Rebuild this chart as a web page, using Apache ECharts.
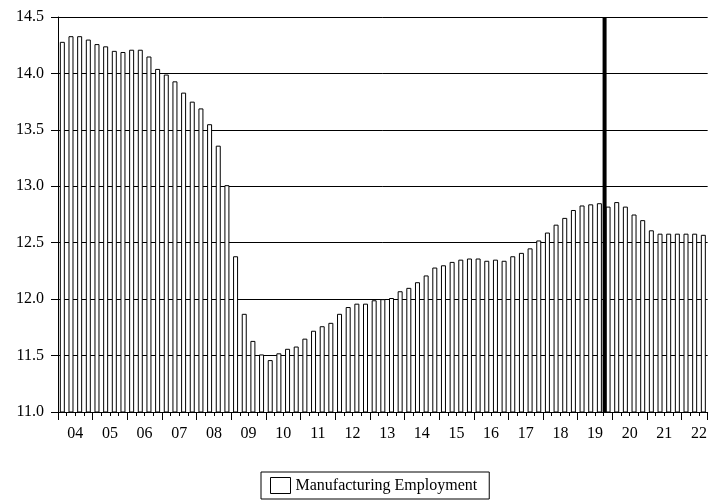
<!DOCTYPE html>
<html>
<head>
<meta charset="utf-8">
<script src="https://cdn.jsdelivr.net/npm/echarts@6/dist/echarts.min.js"></script>
<style>
  html, body { margin: 0; padding: 0; background: #fff; }
  #chart { width: 710px; height: 502px; }
</style>
</head>
<body>
<div id="chart"></div>
<script>
  // quarterly, 2004Q1 .. 2022Q3
  const years = ['04', '05', '06', '07', '08', '09', '10', '11', '12', '13',
    '14', '15', '16', '17', '18', '19', '20', '21', '22'];
  const quarters = [];
  years.forEach((y) => {
    for (let q = 1; q <= 4; q++) quarters.push(y + 'Q' + q);
  });
  quarters.length = 75;

  const employment = [
    14.28, 14.33, 14.33, 14.30, 14.26, 14.24, 14.20, 14.19, 14.21, 14.21,
    14.15, 14.04, 13.99, 13.93, 13.83, 13.75, 13.69, 13.55, 13.36, 13.01,
    12.38, 11.87, 11.63, 11.51, 11.46, 11.52, 11.56, 11.58, 11.65, 11.72,
    11.76, 11.79, 11.87, 11.93, 11.96, 11.96, 11.99, 12.00, 12.01, 12.07,
    12.10, 12.15, 12.21, 12.28, 12.30, 12.33, 12.35, 12.36, 12.36, 12.34,
    12.35, 12.34, 12.38, 12.41, 12.45, 12.52, 12.59, 12.66, 12.72, 12.79,
    12.83, 12.84, 12.85, 12.82, 12.86, 12.82, 12.75, 12.70, 12.61, 12.58,
    12.58, 12.58, 12.58, 12.58, 12.57
  ];

  // vertical marker between 2019Q3 and 2019Q4 (boundary index)
  const markerPos = 63.1;

  const font = "'Liberation Serif', 'Times New Roman', serif";
  const chart = echarts.init(document.getElementById('chart'));

  const options = {
    animation: false,
    textStyle: { fontFamily: font, color: '#000' },
    grid: { left: 58, right: 2, top: 17, bottom: 90 },
    legend: {
      data: ['Manufacturing Employment'],
      left: 261,
      top: 472,
      icon: 'rect',
      itemWidth: 20,
      itemHeight: 16,
      itemGap: 8,
      padding: [5, 12, 5, 9],
      borderColor: '#000',
      borderWidth: 1,
      itemStyle: { color: '#fff', borderColor: '#000', borderWidth: 1 },
      textStyle: { fontFamily: font, fontSize: 16, color: '#000' }
    },
    xAxis: [
      {
        // bars + minor ticks
        type: 'category',
        data: quarters,
        position: 'bottom',
        axisLine: { show: true, lineStyle: { color: '#000', width: 1 } },
        axisTick: { show: true, interval: 0, length: 4, lineStyle: { color: '#000' } },
        axisLabel: { show: false },
        splitLine: { show: false }
      },
      {
        // year ticks
        type: 'category',
        data: quarters,
        position: 'bottom',
        axisLine: { show: false },
        axisTick: {
          show: true,
          length: 8,
          interval: (idx) => idx % 4 === 0,
          lineStyle: { color: '#000' }
        },
        axisLabel: { show: false },
        splitLine: { show: false }
      },
      {
        // year labels centred in each year, and the marker line
        type: 'value',
        min: 0,
        max: 75,
        interval: 2,
        position: 'bottom',
        axisLine: { show: false },
        axisTick: { show: false },
        splitLine: { show: false },
        axisLabel: {
          margin: 14,
          fontSize: 16,
          fontFamily: font,
          color: '#000',
          showMinLabel: true,
          showMaxLabel: false,
          formatter: (v) => (v % 4 === 2 ? years[(v - 2) / 4] : '')
        }
      }
    ],
    yAxis: {
      type: 'value',
      min: 11,
      max: 14.5,
      interval: 0.5,
      axisLine: { show: true, lineStyle: { color: '#000' } },
      axisTick: { show: true, length: 7, lineStyle: { color: '#000' } },
      axisLabel: {
        margin: 14,
        fontSize: 16,
        fontFamily: font,
        color: '#000',
        formatter: (v) => v.toFixed(1)
      },
      splitLine: { show: true, lineStyle: { color: '#000', width: 1 } }
    },
    series: [
      {
        name: 'Manufacturing Employment',
        type: 'bar',
        xAxisIndex: 0,
        data: employment,
        barWidth: 5,
        itemStyle: { color: '#fff', borderColor: '#000', borderWidth: 1 }
      },
      {
        name: 'marker',
        type: 'line',
        xAxisIndex: 2,
        data: [[markerPos, 11], [markerPos, 14.5]],
        symbol: 'none',
        lineStyle: { color: '#000', width: 4 },
        silent: true
      }
    ]
  };
  chart.setOption(options);
</script>
</body>
</html>
